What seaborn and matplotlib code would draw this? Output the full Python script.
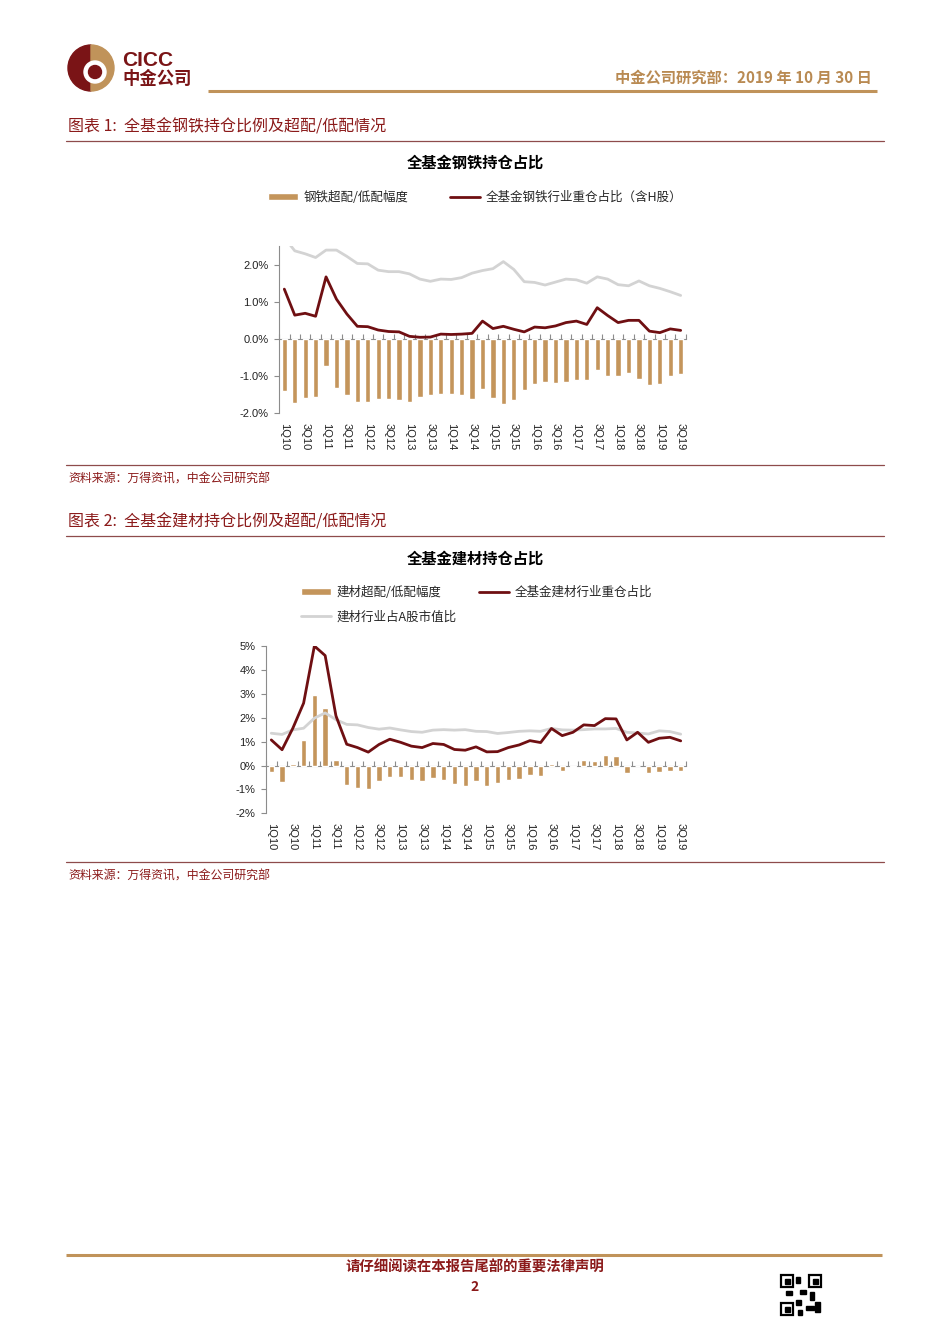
import numpy as np
import matplotlib
matplotlib.use("Agg")
import matplotlib.pyplot as plt
import seaborn as sns
from matplotlib.patches import Wedge, Circle, Rectangle

# quarters 1Q10 .. 3Q19
quarters = [f"{q}Q{y}" for y in range(10, 20) for q in range(1, 5)][:39]

# steel: over/under-weight, fund holding share, market share (in %)
steel_gap = [-1.39, -1.73, -1.60, -1.57, -0.72, -1.33, -1.52, -1.70,
             -1.70, -1.61, -1.62, -1.63, -1.70, -1.56, -1.50, -1.48,
             -1.49, -1.52, -1.61, -1.35, -1.60, -1.74, -1.63, -1.36,
             -1.20, -1.17, -1.19, -1.17, -1.10, -1.10, -0.83, -0.99,
             -1.01, -0.92, -1.07, -1.24, -1.20, -1.01, -0.95]
steel_fund = [1.34, 0.64, 0.69, 0.61, 1.67, 1.07, 0.67, 0.34,
              0.33, 0.24, 0.20, 0.19, 0.07, 0.045, 0.05, 0.13,
              0.12, 0.13, 0.15, 0.48, 0.28, 0.34, 0.26, 0.19,
              0.32, 0.30, 0.35, 0.44, 0.48, 0.39, 0.84, 0.63,
              0.44, 0.50, 0.50, 0.21, 0.17, 0.27, 0.23]
steel_mkt = [2.73, 2.37, 2.29, 2.19, 2.39, 2.39, 2.22, 2.03,
             2.02, 1.85, 1.81, 1.81, 1.75, 1.61, 1.55, 1.61,
             1.60, 1.65, 1.77, 1.84, 1.89, 2.08, 1.87, 1.54,
             1.52, 1.45, 1.53, 1.61, 1.59, 1.50, 1.67, 1.61,
             1.46, 1.43, 1.56, 1.43, 1.36, 1.27, 1.17]

# building materials
bm_gap = [-0.29, -0.67, 0.06, 1.06, 2.97, 2.42, 0.24, -0.82,
          -0.95, -0.99, -0.64, -0.47, -0.50, -0.60, -0.63, -0.54,
          -0.60, -0.79, -0.86, -0.63, -0.84, -0.72, -0.61, -0.56,
          -0.38, -0.46, 0.06, -0.24, -0.08, 0.24, 0.19, 0.45,
          0.40, -0.32, -0.02, -0.33, -0.28, -0.21, -0.25]
bm_fund = [1.07, 0.66, 1.56, 2.61, 5.00, 4.60, 2.08, 0.89,
           0.75, 0.56, 0.88, 1.10, 0.97, 0.81, 0.75, 0.92,
           0.88, 0.67, 0.64, 0.78, 0.57, 0.58, 0.75, 0.86,
           1.04, 0.96, 1.55, 1.25, 1.39, 1.70, 1.67, 1.96,
           1.95, 1.07, 1.39, 0.97, 1.14, 1.18, 1.03]
bm_mkt = [1.35, 1.30, 1.49, 1.56, 1.98, 2.20, 1.92, 1.72,
          1.70, 1.59, 1.52, 1.57, 1.49, 1.42, 1.39, 1.48,
          1.50, 1.48, 1.50, 1.43, 1.42, 1.34, 1.38, 1.43,
          1.45, 1.43, 1.55, 1.49, 1.48, 1.50, 1.53, 1.53,
          1.55, 1.39, 1.36, 1.32, 1.45, 1.42, 1.31]

BAR = "#C4955B"
RED = "#6F0F12"
GRAY = "#D3D3D3"
GOLD = "#C0935A"
DARK = "#8B1A1A"
RULE = "#8E4B4B"
AXC = "#8C8C8C"

sns.set_theme(style="white")
plt.rcParams['font.family'] = ['Noto Sans CJK SC', 'DejaVu Sans']

fig = plt.figure(figsize=(9.5, 13.44), dpi=100)
bg = fig.add_axes([0, 0, 1, 1], zorder=0)
bg.set_xlim(0, 950)
bg.set_ylim(1344, 0)
bg.axis('off')

# header / logo
bg.add_patch(Wedge((91, 68), 23, 90, 270, color="#7A1416"))
bg.add_patch(Wedge((91, 68), 23, -90, 90, color=GOLD))
bg.add_patch(Circle((95, 72), 11, color="white"))
bg.add_patch(Circle((95, 72), 6.5, color="#7A1416"))
bg.text(122, 61, "CICC", fontsize=15, fontweight='bold', color="#7A1416",
        va='center', family=['Liberation Sans', 'DejaVu Sans'])
bg.text(122, 79, "中金公司", fontsize=12.5, fontweight='bold', color="#7A1416", va='center')
bg.text(872, 78, "中金公司研究部：2019 年 10 月 30 日", fontsize=11, fontweight='bold',
        color="#B98A52", ha='right', va='center')
bg.plot([208, 877], [90.5, 90.5], color=GOLD, lw=2.2, solid_capstyle='butt')

# captions and rules
for y_cap, txt in [(127, "图表 1:  全基金钢铁持仓比例及超配/低配情况"),
                   (522, "图表 2:  全基金建材持仓比例及超配/低配情况")]:
    bg.text(68, y_cap, txt, fontsize=11.5, color=DARK, va='center', style='italic')
    bg.plot([66, 884], [y_cap + 13.5, y_cap + 13.5], color=RULE, lw=0.9)
for y_rule in [465, 862]:
    bg.plot([66, 884], [y_rule, y_rule], color=RULE, lw=0.9)
    bg.text(68, y_rule + 14, "资料来源：万得资讯，中金公司研究部", fontsize=8.6,
            color=DARK, va='center', style='italic')

bg.text(475, 163, "全基金钢铁持仓占比", fontsize=11, fontweight='bold',
        color="black", ha='center', va='center')
bg.text(475, 559, "全基金建材持仓占比", fontsize=11, fontweight='bold',
        color="black", ha='center', va='center')

# footer
bg.plot([66, 882], [1255, 1255], color=GOLD, lw=2.2, solid_capstyle='butt')
bg.text(475, 1267, "请仔细阅读在本报告尾部的重要法律声明", fontsize=10.4, fontweight='bold',
        color=DARK, ha='center', va='center', style='italic')
bg.text(475, 1287, "2", fontsize=10, fontweight='bold', color=DARK, ha='center', va='center')
for qx, qy in [(781, 1275), (809, 1275), (781, 1303)]:
    bg.add_patch(Rectangle((qx, qy), 12, 12, fill=False, ec="black", lw=1.6))
    bg.add_patch(Rectangle((qx + 3.5, qy + 3.5), 5, 5, color="black"))
for bx, by, bw, bh in [(796, 1277, 4, 6), (800, 1290, 6, 4), (810, 1292, 4, 8),
                       (796, 1300, 5, 5), (806, 1306, 8, 4), (815, 1302, 5, 10),
                       (786, 1291, 6, 4), (798, 1310, 4, 5)]:
    bg.add_patch(Rectangle((bx, by), bw, bh, color="black"))


def draw_panel(ax, gap, fund, mkt, ylim, yticks, fmt, frac0):
    n = len(quarters)
    pos = np.arange(n)
    sns.barplot(x=quarters, y=gap, color=BAR, saturation=1, width=0.5,
                errorbar=None, ax=ax)
    bars = ax.containers[0]
    sns.lineplot(x=pos, y=mkt, color=GRAY, lw=2, ax=ax)
    sns.lineplot(x=pos, y=fund, color=RED, lw=2, ax=ax)
    gray_line, red_line = ax.lines[-2], ax.lines[-1]
    ax.set_xlim(-0.5, n - 0.5)
    ax.set_ylim(*ylim)
    ax.set_yticks(yticks)
    ax.set_yticklabels([fmt.format(v) for v in yticks])
    ax.set_xticks(pos[::2])
    ax.set_xticklabels(quarters[::2], rotation=-90)
    ax.set_xlabel('')
    ax.set_ylabel('')
    ax.patch.set_alpha(0)
    for s in ['top', 'right', 'bottom']:
        ax.spines[s].set_visible(False)
    ax.spines['left'].set_color(AXC)
    ax.spines['left'].set_linewidth(0.8)
    ax.tick_params(axis='y', left=True, length=3.5, width=0.8, color=AXC, pad=4,
                   labelsize=8, labelcolor="#222222", labelfontfamily='Liberation Sans')
    ax.tick_params(axis='x', bottom=False, length=0, pad=7,
                   labelsize=8, labelcolor="#222222", labelfontfamily='Liberation Sans')
    # category axis at zero, ticks on category boundaries (parent data units)
    sec = ax.secondary_xaxis(frac0, transform=ax.transAxes)
    sec.set_xticks(np.arange(n + 1) - 0.5)
    sec.set_xticklabels([])
    sec.tick_params(direction='in', length=3.5, width=0.8, color=AXC)
    sec.spines['bottom'].set_color(AXC)
    sec.spines['bottom'].set_linewidth(0.8)
    for s in ['top', 'left', 'right']:
        sec.spines[s].set_visible(False)
    return bars, red_line, gray_line


ax1 = fig.add_axes([279.1 / 950, 1 - 413.3 / 1344, 406.8 / 950, 167.3 / 1344], zorder=1)
b1, r1, g1 = draw_panel(ax1, steel_gap, steel_fund, steel_mkt, (-2.0, 2.5),
                        [-2, -1, 0, 1, 2], "{:.1f}%", 2 / 4.5)
ax1.legend([b1, r1], ["钢铁超配/低配幅度", "全基金钢铁行业重仓占比（含H股）"],
           loc='upper left', bbox_to_anchor=(268, 191),
           bbox_transform=bg.transData, ncol=2, frameon=False, fontsize=9,
           borderpad=0, borderaxespad=0, handlelength=2.4, handleheight=0.5,
           handletextpad=0.45, columnspacing=3.3)

ax2 = fig.add_axes([265.9 / 950, 1 - 813.3 / 1344, 420.2 / 950, 167.3 / 1344], zorder=1)
b2, r2, g2 = draw_panel(ax2, bm_gap, bm_fund, bm_mkt, (-2, 5),
                        [-2, -1, 0, 1, 2, 3, 4, 5], "{:.0f}%", 2 / 7)
ax2.legend([b2, g2, r2], ["建材超配/低配幅度", "建材行业占A股市值比", "全基金建材行业重仓占比"],
           loc='upper left', bbox_to_anchor=(301, 586),
           bbox_transform=bg.transData, ncol=2, frameon=False, fontsize=9,
           borderpad=0, borderaxespad=0, handlelength=2.4, handleheight=0.5,
           handletextpad=0.45, columnspacing=1.75, labelspacing=0.9)

fig.savefig("out.png", dpi=100)
